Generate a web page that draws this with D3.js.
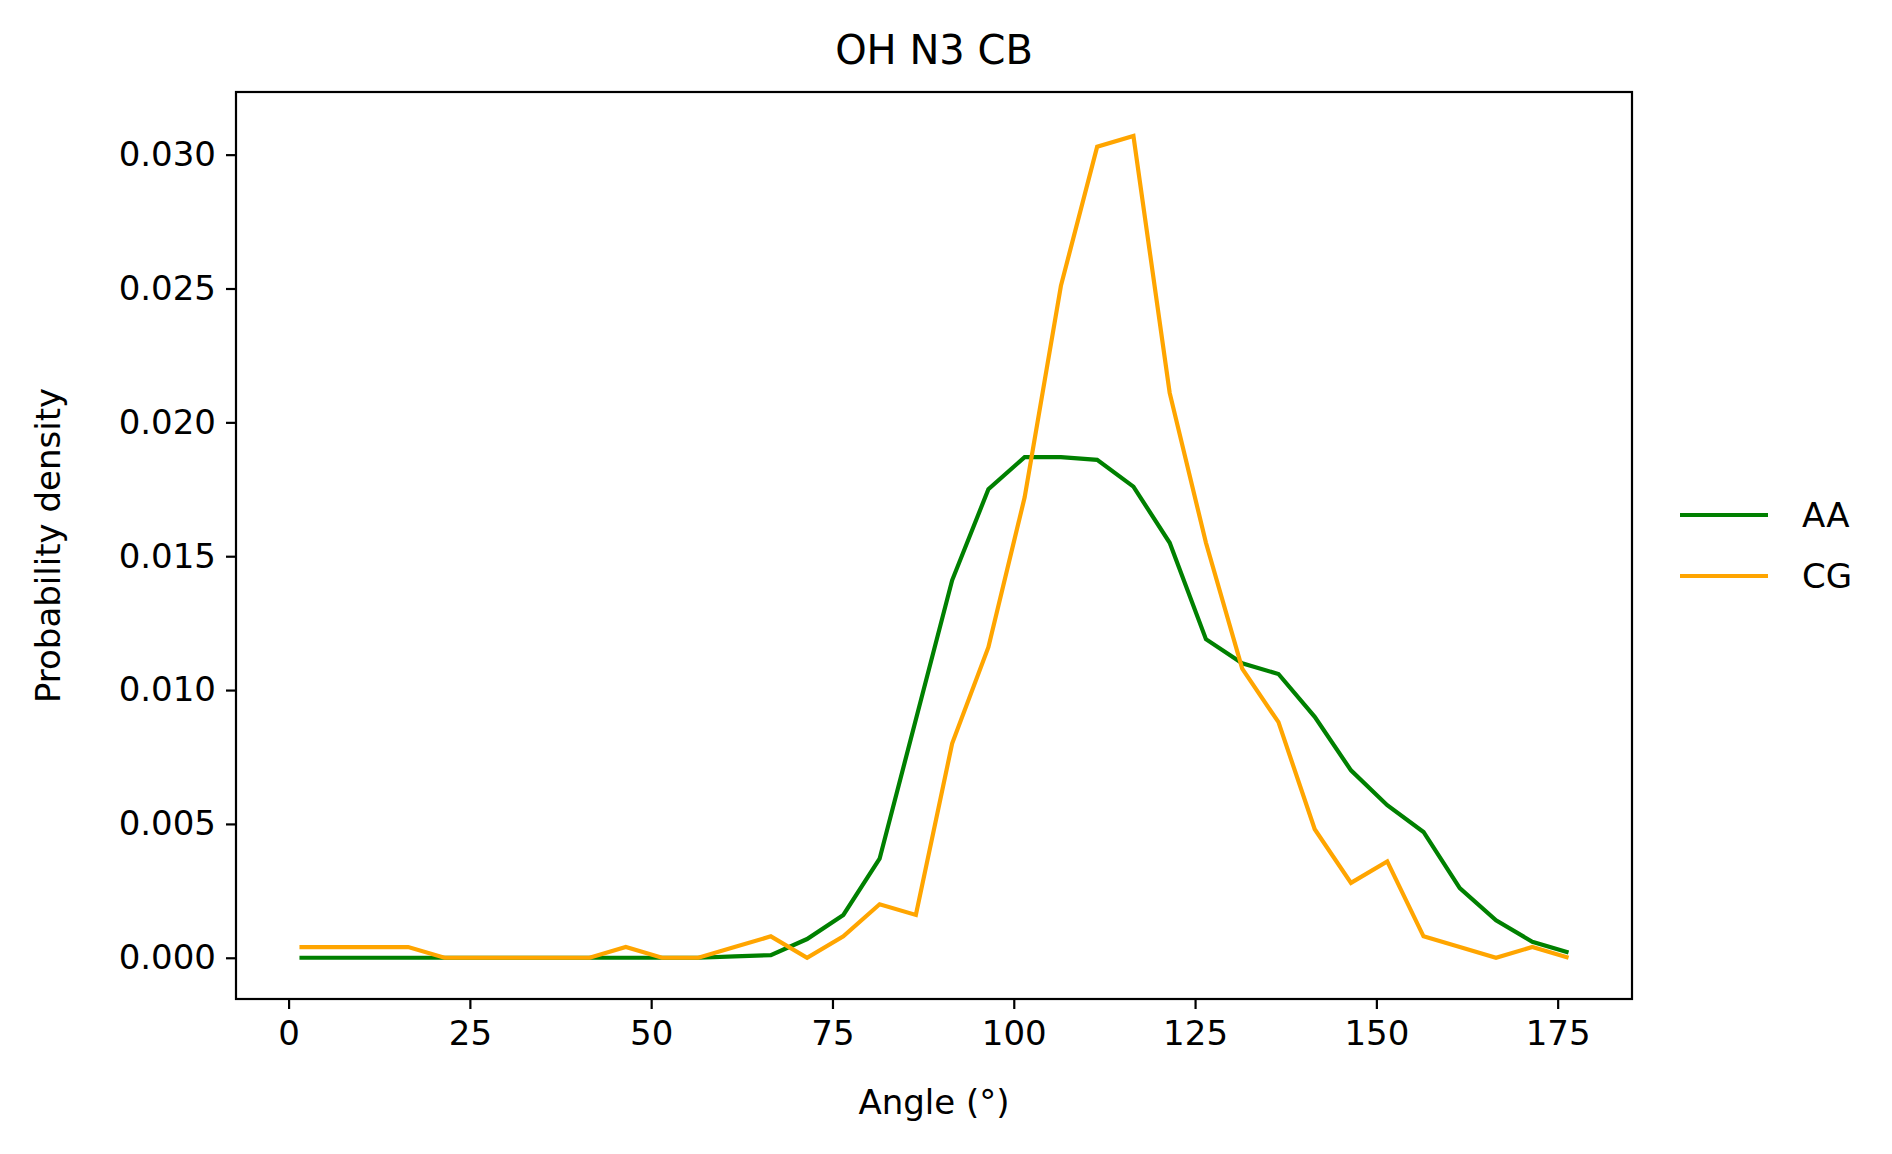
<!DOCTYPE html>
<html>
<head>
<meta charset="utf-8">
<script src="https://cdn.jsdelivr.net/npm/d3@7"></script>
<style>
  body { margin: 0; background: #fff; }
  text { font-family: "DejaVu Sans", sans-serif; fill: #000; }
</style>
</head>
<body>
<svg id="chart"></svg>
<script>
const width = 1892;
const height = 1154;

// bin centres (degrees)
const angles = [1.5, 6.5, 11.5, 16.5, 21.5, 26.5, 31.5, 36.5, 41.5, 46.5, 51.5, 56.5,
  61.5, 66.5, 71.5, 76.5, 81.5, 86.5, 91.5, 96.5, 101.5, 106.5, 111.5, 116.5,
  121.5, 126.5, 131.5, 136.5, 141.5, 146.5, 151.5, 156.5, 161.5, 166.5, 171.5, 176.5];

const aaValues = [0, 0, 0, 0, 0, 0, 0, 0, 0, 0, 0, 0,
  0.00005, 0.0001, 0.0007, 0.0016, 0.0037, 0.0089, 0.0141, 0.0175, 0.0187, 0.0187, 0.0186, 0.0176,
  0.0155, 0.0119, 0.0110, 0.0106, 0.0090, 0.0070, 0.0057, 0.0047, 0.0026, 0.0014, 0.0006, 0.0002];

const cgValues = [0.0004, 0.0004, 0.0004, 0.0004, 0, 0, 0, 0, 0, 0.0004, 0, 0,
  0.0004, 0.0008, 0, 0.0008, 0.0020, 0.0016, 0.0080, 0.0116, 0.0172, 0.0251, 0.0303, 0.0307,
  0.0211, 0.0155, 0.0108, 0.0088, 0.0048, 0.0028, 0.0036, 0.0008, 0.0004, 0, 0.0004, 0];

const xTicks = [0, 25, 50, 75, 100, 125, 150, 175];
const yTicks = [0, 0.005, 0.010, 0.015, 0.020, 0.025, 0.030];

const series = [
  { name: "AA", values: aaValues, color: "green" },
  { name: "CG", values: cgValues, color: "orange" }
];

const margin = { left: 236, right: 1892 - 1632, top: 92, bottom: 1154 - 999 };
const plotW = width - margin.left - margin.right;
const plotH = height - margin.top - margin.bottom;

const svg = d3.select("#chart").attr("width", width).attr("height", height);

const xScale = d3.scaleLinear().domain([-7.25, 185.25]).range([margin.left, margin.left + plotW]);
const yScale = d3.scaleLinear().domain([-0.00154, 0.03234]).range([margin.top + plotH, margin.top]);

// lines
const line = d3.line().x((d, i) => xScale(angles[i])).y(d => yScale(d));
series.forEach(s => {
  svg.append("path")
    .attr("d", line(s.values))
    .attr("fill", "none")
    .attr("stroke", s.color)
    .attr("stroke-width", 4.2);
});

// axes
const xAxis = d3.axisBottom(xScale).tickValues(xTicks).tickFormat(d3.format("d")).tickSize(10).tickPadding(12);
const yAxis = d3.axisLeft(yScale).tickValues(yTicks).tickFormat(d3.format(".3f")).tickSize(10).tickPadding(10);

const gx = svg.append("g").attr("transform", `translate(0,${margin.top + plotH})`).call(xAxis);
const gy = svg.append("g").attr("transform", `translate(${margin.left},0)`).call(yAxis);
[gx, gy].forEach(g => {
  g.select(".domain").remove();
  g.selectAll(".tick line").attr("stroke", "#000").attr("stroke-width", 2.2);
  g.selectAll(".tick text").style("font-size", "34px").style("font-family", "DejaVu Sans");
});

// frame
svg.append("rect")
  .attr("x", margin.left).attr("y", margin.top)
  .attr("width", plotW).attr("height", plotH)
  .attr("fill", "none").attr("stroke", "#000").attr("stroke-width", 2.2);

// title and labels
svg.append("text").attr("x", margin.left + plotW / 2).attr("y", 64)
  .attr("text-anchor", "middle").style("font-size", "40px").text("OH N3 CB");
svg.append("text").attr("x", margin.left + plotW / 2).attr("y", 1114)
  .attr("text-anchor", "middle").style("font-size", "34px").text("Angle (°)");
svg.append("text").attr("transform", `translate(60,${margin.top + plotH / 2}) rotate(-90)`)
  .attr("text-anchor", "middle").style("font-size", "34px").text("Probability density");

// legend
series.forEach((s, i) => {
  const y = 515 + i * 61;
  svg.append("line").attr("x1", 1680).attr("x2", 1768).attr("y1", y).attr("y2", y)
    .attr("stroke", s.color).attr("stroke-width", 4.2);
  svg.append("text").attr("x", 1802).attr("y", y + 12).style("font-size", "34px").text(s.name);
});
</script>
</body>
</html>
